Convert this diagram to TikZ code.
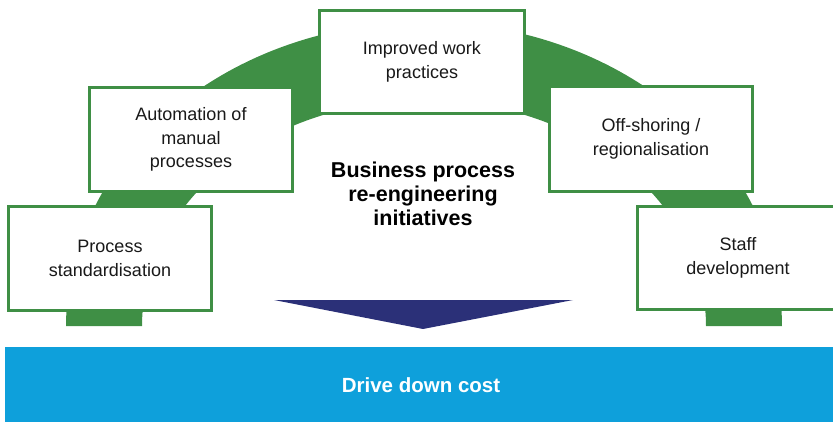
\documentclass[tikz,border=0pt]{standalone}
\usepackage{fontspec}
\setmainfont{Liberation Sans}
\definecolor{bandgreen}{RGB}{63,143,69}
\definecolor{barblue}{RGB}{14,160,219}
\definecolor{navy}{RGB}{43,48,120}
\definecolor{txt}{RGB}{25,25,25}
\tikzset{
  box/.style={draw=bandgreen, line width=3pt, fill=white, align=center,
    font=\fontsize{18}{23.5}\selectfont, text=txt, inner sep=0pt},
}
\begin{document}
\begin{tikzpicture}[x=1pt,y=-1pt]
\useasboundingbox (0,0) rectangle (833,422);
\clip (0,0) rectangle (833,422);
% green half-elliptical band
\fill[bandgreen] plot[domain=180:0,samples=150] ({424+358*cos(\x)},{326-304*sin(\x)})
  -- plot[domain=0:180,samples=150] ({424+282*cos(\x)},{326-226*sin(\x)}) -- cycle;
% boxes
\node[box, minimum width=203pt, minimum height=104pt] (std) at (110,258.5) {Process\\standardisation};
\node[box, minimum width=203pt, minimum height=104pt] (auto) at (191,139.5) {Automation of\\manual\\processes};
\node[box, minimum width=205pt, minimum height=103pt] (impr) at (422,62) {Improved work\\practices};
\node[box, minimum width=203pt, minimum height=105pt] (off) at (651,139) {Off-shoring /\\regionalisation};
\node[box, minimum width=201pt, minimum height=103pt] (staff) at (738,258) {Staff\\development};
% centre title
\node[align=center, font=\fontsize{21.5}{24}\selectfont\bfseries, text=black, inner sep=0pt] (title) at (423,194) {Business process\\re-engineering\\initiatives};
% down arrow
\coordinate (tl) at (274,300);
\coordinate (tr) at (573,300);
\coordinate (tip) at (423,329);
\fill[navy] (tl) -- (tr) -- (tip) -- cycle;
% bottom bar
\fill[barblue] (5,347) rectangle (833,422);
\node[font=\fontsize{20.5}{24}\selectfont\bfseries, text=white, inner sep=0pt] (cost) at (421,385) {Drive down cost};
\end{tikzpicture}
\end{document}
